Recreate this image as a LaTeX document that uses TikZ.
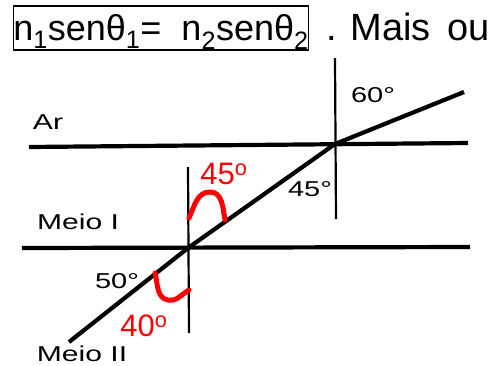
\documentclass[tikz,border=0pt]{standalone}
\usepackage{fontspec}
\usepackage{graphicx}
\setmainfont{Liberation Sans}
\begin{document}
\begin{tikzpicture}[x=1pt,y=-1pt,
  thickline/.style={line width=4.2pt},
  thinline/.style={line width=2.2pt},
  arcred/.style={red, line width=5pt, line cap=round},
  lab/.style={inner sep=0pt, font=\fontsize{21.5}{21.5}\selectfont},
  redlab/.style={inner sep=0pt, text=red, font=\fontsize{31}{31}\selectfont}]
\useasboundingbox (0,0) rectangle (491,365);
% title
\node[draw, line width=1.6pt, inner sep=0pt, minimum width=294pt, minimum height=44pt,
      text height=27pt, text depth=3pt, font=\fontsize{36}{36}\selectfont]
  (eq) at (161,28) {n\textsubscript{1}senθ\textsubscript{1}=\ \ n\textsubscript{2}senθ\textsubscript{2}};
\node[anchor=base west, inner sep=0pt, font=\fontsize{38}{38}\selectfont]
  (mais) at (326,40) {.\hspace{14pt}Mais\hspace{6pt} ou};
% interfaces
\coordinate (arL) at (29,147);
\coordinate (arR) at (468,143);
\coordinate (miL) at (22,248);
\coordinate (miR) at (470,247);
\draw[thickline] (arL) -- (arR);
\draw[thickline] (miL) -- (miR);
% normals
\coordinate (n1t) at (188,167);
\coordinate (n1b) at (189,333);
\coordinate (n2t) at (335,58);
\coordinate (n2b) at (336,219);
\draw[thinline] (n1t) -- (n1b);
\draw[thinline] (n2t) -- (n2b);
% ray
\coordinate (r0) at (69,342);
\coordinate (P1) at (188,248);
\coordinate (P2) at (335,144);
\coordinate (r3) at (464,92);
\draw[thickline, line join=round] (r0) -- (P1) -- (P2) -- (r3);
% red angle marks
\draw[arcred] (189,218) to[out=65,in=180] (210,192) to[out=0,in=100] (225,220);
\draw[arcred] (155,273) to[out=-75,in=170] (168,300) to[out=-10,in=210] (189,290);
% labels
\node[lab] (ar) at (48,122) {\scalebox{1.4}[1]{Ar}};
\node[lab] (m1) at (78,222) {\scalebox{1.4}[1]{Meio I}};
\node[lab] (m2) at (82,354) {\scalebox{1.4}[1]{Meio II}};
\node[lab] (a50) at (117,281) {\scalebox{1.35}[1]{50°}};
\node[lab] (a45) at (310,189) {\scalebox{1.35}[1]{45°}};
\node[lab] (a60) at (373,95) {\scalebox{1.35}[1]{60°}};
\node[redlab] (r45) at (224,174) {45\textsuperscript{o}};
\node[redlab] (r40) at (144,326) {40\textsuperscript{o}};
\end{tikzpicture}
\end{document}
